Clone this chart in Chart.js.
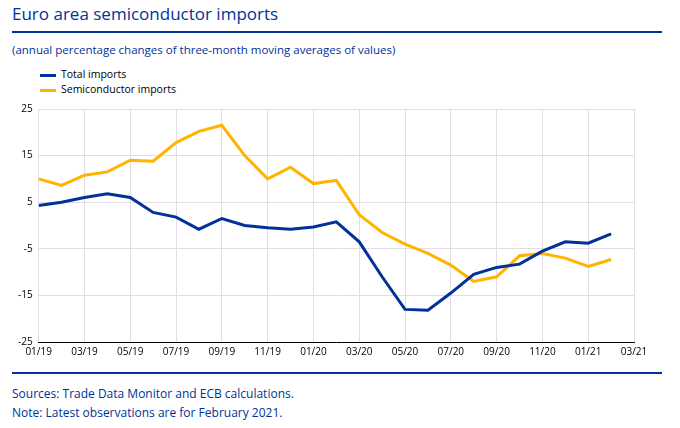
<!DOCTYPE html>
<html><head><meta charset="utf-8">
<script src="https://cdn.jsdelivr.net/npm/chart.js@4"></script>
<style>
body{margin:0;width:680px;height:428px;font-family:"Open Sans",sans-serif;background:#fff;color:#003299;overflow:hidden}
#title{position:absolute;left:12px;top:2px;font-size:17px;color:#003299}
.rule{position:absolute;left:12px;width:650px;height:2px;background:#003299}
#sub{position:absolute;left:12px;top:42px;font-size:11.5px;color:#003299}
#wrap{position:absolute;left:0;top:97px;width:660px;height:265px}
.note{position:absolute;left:12px;font-size:12px;color:#003299}
.leg{position:absolute;left:40px;font-size:10.5px;color:#000}
.leg span{display:inline-block;width:16px;height:3px;margin-right:5px;vertical-align:middle}
</style></head><body>
<div id="title">Euro area semiconductor imports</div>
<div class="rule" style="top:31px"></div>
<div id="sub">(annual percentage changes of three-month moving averages of values)</div>
<div class="leg" style="top:67px"><span style="background:#003299"></span>Total imports</div>
<div class="leg" style="top:82px"><span style="background:#ffb400"></span>Semiconductor imports</div>
<div id="wrap"><canvas id="c"></canvas></div>
<div class="rule" style="top:372px"></div>
<div class="note" style="top:385px">Sources: Trade Data Monitor and ECB calculations.</div>
<div class="note" style="top:404px">Note: Latest observations are for February 2021.</div>
<script>
// meses de 01/19 a 03/21
const meses = ['01/19','02/19','03/19','04/19','05/19','06/19','07/19','08/19','09/19','10/19','11/19','12/19',
  '01/20','02/20','03/20','04/20','05/20','06/20','07/20','08/20','09/20','10/20','11/20','12/20','01/21','02/21','03/21'];
const totalImports = [4.3,5.0,6.0,6.8,6.0,2.8,1.8,-0.8,1.5,0,-0.5,-0.8,-0.3,0.8,-3.5,-11,-18,-18.2,-14.5,-10.5,-9,-8.3,-5.5,-3.5,-3.8,-1.8];
const semiImports = [10,8.6,10.8,11.5,14,13.8,17.8,20.2,21.5,15,10,12.5,9,9.7,2.3,-1.5,-4,-6,-8.5,-12,-11,-6.5,-6,-7,-8.8,-7.3];
const yTicks = [-25,-15,-5,5,15,25];

const pts = arr => arr.map((v, i) => ({x: i, y: v}));
const grid = '#e6dce8';

new Chart(document.getElementById('c'), {
  type: 'line',
  data: {datasets: [
    {label: 'Total imports', data: pts(totalImports), borderColor: '#003299', borderWidth: 3, pointRadius: 0, tension: 0},
    {label: 'Semiconductor imports', data: pts(semiImports), borderColor: '#ffb400', borderWidth: 3, pointRadius: 0, tension: 0}
  ]},
  options: {
    responsive: true, maintainAspectRatio: false, animation: false,
    layout: {padding: {left: 12, right: 26, top: 0, bottom: 0}},
    plugins: {legend: {display: false}, tooltip: {enabled: false}},
    scales: {
      x: {type: 'linear', min: 0, max: meses.length - 1,
        afterBuildTicks: a => { a.ticks = meses.map((m, i) => ({value: i})).filter(t => t.value % 2 === 0); },
        ticks: {callback: v => meses[v], color: '#000', font: {size: 10, family: 'Open Sans'}, maxRotation: 0, padding: 4},
        grid: {color: grid, drawTicks: false}, border: {color: '#000'}},
      y: {min: -25, max: 25,
        afterBuildTicks: a => { a.ticks = yTicks.map(v => ({value: v})); },
        ticks: {color: '#000', font: {size: 10, family: 'Open Sans'}, padding: 6},
        grid: {color: grid, drawTicks: false}, border: {display: false}}
    }
  }
});
</script>
</body></html>
